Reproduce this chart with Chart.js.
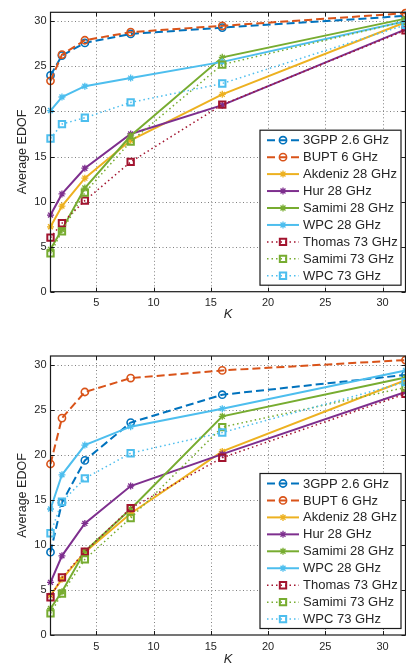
<!DOCTYPE html>
<html>
<head>
<meta charset="utf-8">
<script src="https://cdn.jsdelivr.net/npm/chart.js@4.4.0/dist/chart.umd.min.js"></script>
<style>
  html, body { margin: 0; padding: 0; background: #fff; }
  canvas { display: block; }
</style>
</head>
<body>
<canvas id="chartTop" width="406" height="332"></canvas>
<canvas id="chartBottom" width="406" height="333"></canvas>
<script>
// ---------------- DATA ----------------
const kValues = [1, 2, 4, 8, 16, 32];
const xTicks = [5, 10, 15, 20, 25, 30];
const yTicks = [0, 5, 10, 15, 20, 25, 30];
const seriesNames = [
  "3GPP 2.6 GHz", "BUPT 6 GHz", "Akdeniz 28 GHz", "Hur 28 GHz", "Samimi 28 GHz",
  "WPC 28 GHz", "Thomas 73 GHz", "Samimi 73 GHz", "WPC 73 GHz"
];

// top panel
const top3gpp     = [24.0, 26.2, 27.6, 28.6, 29.3, 30.6];
const topBupt     = [23.4, 26.3, 27.9, 28.8, 29.5, 30.9];
const topAkdeniz  = [7.2, 9.5, 12.6, 16.8, 21.9, 29.9];
const topHur      = [8.5, 10.85, 13.7, 17.5, 20.7, 29.1];
const topSamimi28 = [4.7, 6.9, 11.5, 17.3, 26.0, 30.3];
const topWpc28    = [20.1, 21.6, 22.8, 23.7, 25.5, 30.0];
const topThomas73 = [6.0, 7.6, 10.1, 14.4, 20.75, 29.0];
const topSamimi73 = [4.25, 6.7, 11.0, 16.65, 25.2, 30.0];
const topWpc73    = [17.0, 18.6, 19.3, 21.0, 23.1, 29.6];

// bottom panel
const bot3gpp     = [9.2, 14.7, 19.4, 23.6, 26.7, 28.9];
const botBupt     = [19.0, 24.1, 27.0, 28.55, 29.4, 30.55];
const botAkdeniz  = [4.4, 6.2, 9.2, 13.5, 20.4, 28.3];
const botHur      = [5.85, 8.8, 12.4, 16.55, 20.1, 27.0];
const botSamimi28 = [2.95, 4.8, 9.3, 14.0, 24.3, 28.6];
const botWpc28    = [14.0, 17.8, 21.1, 23.15, 25.15, 29.4];
const botThomas73 = [4.2, 6.4, 9.25, 14.1, 19.7, 26.8];
const botSamimi73 = [2.4, 4.6, 8.4, 13.0, 23.1, 27.5];
const botWpc73    = [11.3, 14.8, 17.4, 20.2, 22.5, 28.1];

// ---------------- STYLES ----------------
const styles = [
  { color: "#0072BD", dash: [8, 4], width: 2, marker: "circle", radius: 3.6, mw: 1.6 },
  { color: "#D95319", dash: [8, 4], width: 2, marker: "circle", radius: 3.6, mw: 1.6 },
  { color: "#EDB120", dash: [], width: 2, marker: "star", radius: 3.5, mw: 1.3 },
  { color: "#7E2F8E", dash: [], width: 2, marker: "star", radius: 3.5, mw: 1.3 },
  { color: "#77AC30", dash: [], width: 2, marker: "star", radius: 3.5, mw: 1.3 },
  { color: "#4DBEEE", dash: [], width: 2, marker: "star", radius: 3.5, mw: 1.3 },
  { color: "#A2142F", dash: [1.5, 3], width: 1.5, marker: "rect", radius: 4.5, mw: 2 },
  { color: "#77AC30", dash: [1.5, 3], width: 1.5, marker: "rect", radius: 4.5, mw: 2 },
  { color: "#4DBEEE", dash: [1.5, 3], width: 1.5, marker: "rect", radius: 4.5, mw: 2 }
];
const textColor = "#262626";
const fontFamily = "'Liberation Sans', Arial, Helvetica, sans-serif";

function makeDatasets(seriesList) {
  return seriesList.map((vals, i) => {
    const s = styles[i];
    return {
      label: seriesNames[i],
      data: kValues.map((k, j) => ({ x: k, y: vals[j] })),
      borderColor: s.color,
      backgroundColor: "rgba(0,0,0,0)",
      borderWidth: s.width,
      borderDash: s.dash,
      pointStyle: s.marker,
      pointRadius: s.radius,
      pointBorderWidth: s.mw,
      pointBorderColor: s.color,
      pointBackgroundColor: "rgba(0,0,0,0)",
      tension: 0,
      clip: false,
      order: seriesList.length - i
    };
  });
}

// ---------------- MARKER ----------------
function drawMarker(ctx, s, x, y) {
  ctx.save();
  ctx.setLineDash([]);
  ctx.strokeStyle = s.color;
  ctx.fillStyle = "rgba(0,0,0,0)";
  ctx.lineWidth = s.mw;
  Chart.helpers.drawPoint(ctx, { pointStyle: s.marker, radius: s.radius, rotation: 0, borderWidth: s.mw }, x, y);
  ctx.restore();
}

// ---------------- GRID + FRAME ----------------
const frame = {
  id: "frame",
  beforeDatasetsDraw(chart) {
    const { ctx, chartArea: { left, right, top, bottom }, scales: { x, y } } = chart;
    ctx.save();
    ctx.strokeStyle = "#808080";
    ctx.lineWidth = 1;
    ctx.setLineDash([1, 2.5]);
    xTicks.forEach(v => {
      const px = Math.round(x.getPixelForValue(v)) + 0.5;
      ctx.beginPath(); ctx.moveTo(px, top); ctx.lineTo(px, bottom); ctx.stroke();
    });
    yTicks.filter(v => v > 0).forEach(v => {
      const py = Math.round(y.getPixelForValue(v)) + 0.5;
      ctx.beginPath(); ctx.moveTo(left, py); ctx.lineTo(right, py); ctx.stroke();
    });
    ctx.restore();
  },
  afterDatasetsDraw(chart) {
    const { ctx, chartArea: { left, right, top, bottom }, scales: { x, y } } = chart;
    const tl = 4;
    ctx.save();
    ctx.strokeStyle = "#1a1a1a";
    ctx.lineWidth = 1.2;
    ctx.setLineDash([]);
    ctx.strokeRect(left, top, right - left, bottom - top);
    ctx.lineWidth = 1;
    xTicks.forEach(v => {
      const px = Math.round(x.getPixelForValue(v)) + 0.5;
      ctx.beginPath();
      ctx.moveTo(px, bottom); ctx.lineTo(px, bottom - tl);
      ctx.moveTo(px, top); ctx.lineTo(px, top + tl);
      ctx.stroke();
    });
    yTicks.forEach(v => {
      const py = Math.round(y.getPixelForValue(v)) + 0.5;
      ctx.beginPath();
      ctx.moveTo(left, py); ctx.lineTo(left + tl, py);
      ctx.moveTo(right, py); ctx.lineTo(right - tl, py);
      ctx.stroke();
    });
    ctx.restore();
  }
};

// ---------------- LEGEND ----------------
const legendBox = {
  id: "legendBox",
  afterDraw(chart) {
    const { ctx, chartArea } = chart;
    const w = 141, h = 155;
    const right = chartArea.right - 4.5;
    const bottom = chartArea.bottom - 6.5;
    const left = right - w, top = bottom - h;
    ctx.save();
    ctx.fillStyle = "#fff";
    ctx.fillRect(left, top, w, h);
    ctx.strokeStyle = "#1a1a1a";
    ctx.lineWidth = 1.2;
    ctx.strokeRect(left, top, w, h);
    ctx.font = "13px " + fontFamily;
    ctx.textBaseline = "middle";
    chart.data.datasets.forEach((ds, i) => {
      const s = styles[i];
      const cy = top + 10 + i * 16.95;
      ctx.save();
      ctx.strokeStyle = s.color;
      ctx.lineWidth = s.width;
      ctx.setLineDash(s.dash);
      ctx.beginPath();
      ctx.moveTo(left + 7, cy); ctx.lineTo(left + 39, cy);
      ctx.stroke();
      ctx.restore();
      drawMarker(ctx, s, left + 23, cy);
      ctx.fillStyle = textColor;
      ctx.fillText(ds.label, left + 43, cy + 0.5);
    });
    ctx.restore();
  }
};

// ---------------- CHART SETUP ----------------
function buildChart(canvasId, seriesList, padTop, xHeight, kPad) {
  const ctx = document.getElementById(canvasId).getContext("2d");
  return new Chart(ctx, {
    type: "line",
    data: { datasets: makeDatasets(seriesList) },
    options: {
      responsive: false,
      animation: false,
      layout: { autoPadding: false, padding: { top: padTop, right: 0.5, left: 0, bottom: 0 } },
      plugins: { legend: { display: false }, tooltip: { enabled: false } },
      scales: {
        x: {
          type: "linear",
          min: 1,
          max: 32,
          afterBuildTicks: scale => { scale.ticks = xTicks.map(v => ({ value: v })); },
          afterFit: scale => { scale.height = xHeight; },
          grid: { display: false, drawTicks: false },
          border: { display: false },
          ticks: { color: textColor, padding: 5, font: { size: 11, family: fontFamily } },
          title: {
            display: true, text: "K", color: textColor,
            font: { size: 13, style: "italic", family: fontFamily },
            padding: { top: 0, bottom: kPad }
          }
        },
        y: {
          min: 0,
          max: 31,
          afterBuildTicks: scale => { scale.ticks = yTicks.map(v => ({ value: v })); },
          afterFit: scale => { scale.width = 50.5; },
          grid: { display: false, drawTicks: false },
          border: { display: false },
          ticks: { color: textColor, padding: 4, font: { size: 11, family: fontFamily } },
          title: {
            display: true, text: "Average EDOF", color: textColor,
            font: { size: 12.5, family: fontFamily },
            padding: { top: 15.5, bottom: 0 }
          }
        }
      }
    },
    plugins: [frame, legendBox]
  });
}

buildChart("chartTop",
  [top3gpp, topBupt, topAkdeniz, topHur, topSamimi28, topWpc28, topThomas73, topSamimi73, topWpc73],
  12.3, 40.3, 10);
buildChart("chartBottom",
  [bot3gpp, botBupt, botAkdeniz, botHur, botSamimi28, botWpc28, botThomas73, botSamimi73, botWpc73],
  24, 30, -2);
</script>
</body>
</html>
